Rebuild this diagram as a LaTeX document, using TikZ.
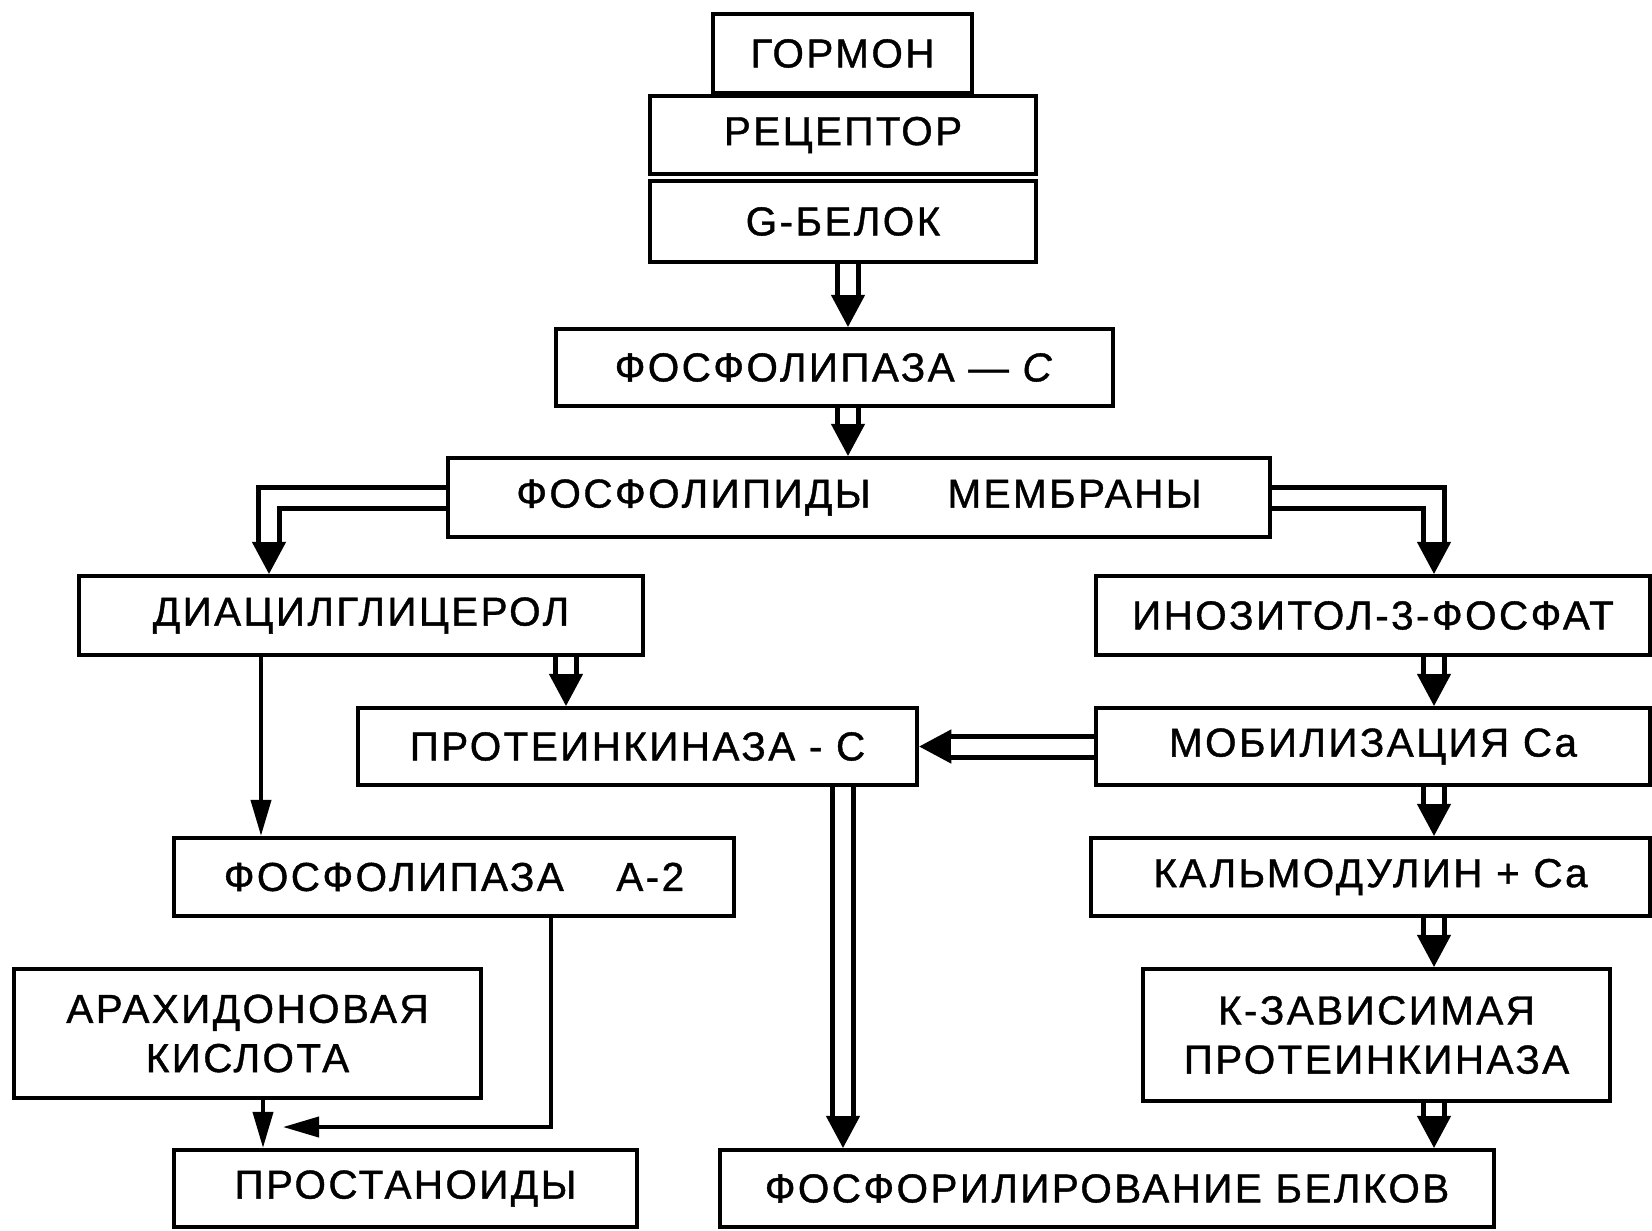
\documentclass[tikz,border=0pt]{standalone}
\usepackage{fontspec}
\setmainfont{Liberation Sans}[LetterSpace=6, FakeBold=1]
\usetikzlibrary{arrows.meta}

\begin{document}
\begin{tikzpicture}[x=0.01cm,y=-0.01cm]
    \tikzstyle{box}=[draw=black, line width=1.2pt, inner sep=0pt, align=center, font=\fontsize{11.5}{14}\selectfont]
    \tikzstyle{fattip}=[draw=black, line width=0.4pt, -{Triangle[length=0.32cm,width=0.34cm]}]
    \tikzstyle{fat}=[draw=black, line width=0.05cm, double distance=0.16cm, shorten >=0.32cm]
    \tikzstyle{fwd}=[draw=black, line width=0.04cm, -{Triangle[length=0.36cm,width=0.2cm]}]
    \def\hollow#1{\draw[fattip] #1; \draw[fat] #1;}

    \useasboundingbox (0,0) rectangle (1652,1230);

    \coordinate (c1) at (848,0);
    \coordinate (c2) at (269,0);
    \coordinate (c3) at (1434,0);
    \coordinate (c4) at (566,0);
    \coordinate (c5) at (261,0);
    \coordinate (c6) at (843,0);
    \coordinate (c7) at (551,0);
    \coordinate (c8) at (263,0);
    \coordinate (join) at (283,1127);

    \node[box, minimum width=2.59cm, minimum height=0.79cm] (gormon) at (842.5,53.5) {ГОРМОН};
    \node[box, minimum width=3.86cm, minimum height=0.78cm] (rec) at (843,135) {РЕЦЕПТОР};
    \node[box, minimum width=3.86cm, minimum height=0.81cm] (gb) at (843,221.5) {G-БЕЛОК};
    \node[box, minimum width=5.57cm, minimum height=0.77cm] (plc) at (834.5,367.5) {ФОСФОЛИПАЗА — \textit{С}};
    \node[box, minimum width=8.22cm, minimum height=0.79cm] (memb) at (859,497.5) {ФОСФОЛИПИДЫ\hspace{1.9em}МЕМБРАНЫ};

    \node[box, minimum width=5.64cm, minimum height=0.79cm] (dag) at (361,615.5) {ДИАЦИЛГЛИЦЕРОЛ};
    \node[box, minimum width=5.54cm, minimum height=0.79cm] (ip3) at (1373,615.5) {ИНОЗИТОЛ-3-ФОСФАТ};
    \node[box, minimum width=5.59cm, minimum height=0.77cm] (pkc) at (637.5,746.5) {ПРОТЕИНКИНАЗА - С};
    \node[box, minimum width=5.54cm, minimum height=0.77cm] (mob) at (1373,746.5) {МОБИЛИЗАЦИЯ Ca};
    \node[box, minimum width=5.60cm, minimum height=0.78cm] (pla2) at (454,877) {ФОСФОЛИПАЗА\hspace{1.3em}А-2};
    \node[box, minimum width=5.59cm, minimum height=0.78cm] (calm) at (1370.5,877) {КАЛЬМОДУЛИН + Ca};
    \node[box, minimum width=4.67cm, minimum height=1.29cm] (arach) at (247.5,1033.5) {АРАХИДОНОВАЯ\\КИСЛОТА};
    \node[box, minimum width=4.67cm, minimum height=1.32cm] (kdep) at (1376.5,1035) {К-ЗАВИСИМАЯ\\ПРОТЕИНКИНАЗА};
    \node[box, minimum width=4.63cm, minimum height=0.77cm] (prost) at (405.5,1188.5) {ПРОСТАНОИДЫ};
    \node[box, minimum width=7.74cm, minimum height=0.77cm] (phos) at (1107,1188.5) {ФОСФОРИЛИРОВАНИЕ БЕЛКОВ};

    \hollow{(gb.south -| c1) -- (plc.north -| c1)}
    \hollow{(plc.south -| c1) -- (memb.north -| c1)}
    \hollow{(memb.west) -| (dag.north -| c2)}
    \hollow{(memb.east) -| (ip3.north -| c3)}
    \hollow{(dag.south -| c4) -- (pkc.north -| c4)}
    \hollow{(ip3.south -| c3) -- (mob.north -| c3)}
    \hollow{(mob.west) -- (pkc.east)}
    \hollow{(mob.south -| c3) -- (calm.north -| c3)}
    \hollow{(calm.south -| c3) -- (kdep.north -| c3)}
    \hollow{(kdep.south -| c3) -- (phos.north -| c3)}
    \hollow{(pkc.south -| c6) -- (phos.north -| c6)}

    \draw[fwd] (dag.south -| c5) -- (pla2.north -| c5);
    \draw[fwd] (arach.south -| c8) -- (prost.north -| c8);
    \draw[fwd] (pla2.south -| c7) |- (join);

\end{tikzpicture}
\end{document}
